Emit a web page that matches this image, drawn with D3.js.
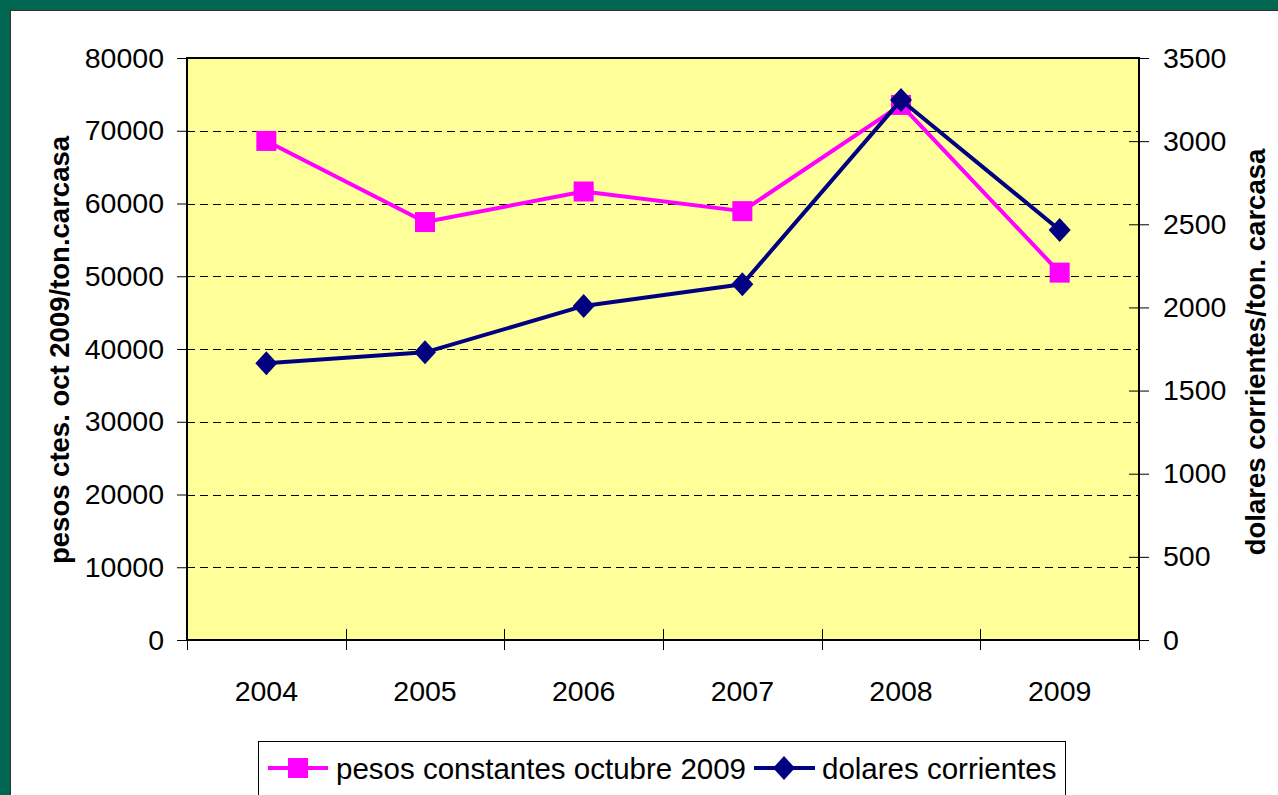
<!DOCTYPE html>
<html>
<head>
<meta charset="utf-8">
<script src="https://cdn.jsdelivr.net/npm/d3@7"></script>
<style>
  html, body { margin: 0; padding: 0; background: #fff; }
  svg { display: block; }
  text { font-family: "Liberation Sans", Arial, sans-serif; }
</style>
</head>
<body>
<script>
// Years on the category axis
const years = ["2004", "2005", "2006", "2007", "2008", "2009"];
// Constant pesos (Oct 2009) per ton carcass — left axis
const pesosConstantes = [68600, 57450, 61650, 58950, 73550, 50500];
// Current dollars per ton carcass — right axis
const dolaresCorrientes = [1664, 1730, 2009, 2139, 3247, 2466];
// Axis ticks
const leftTicks = [0, 10000, 20000, 30000, 40000, 50000, 60000, 70000, 80000];
const rightTicks = [0, 500, 1000, 1500, 2000, 2500, 3000, 3500];

const W = 1278, H = 795;
const plot = { left: 187, top: 58, right: 1139, bottom: 640 };
const FONT = "Liberation Sans, Arial, sans-serif";

const svg = d3.select("body").append("svg").attr("width", W).attr("height", H);

// Outer frame
svg.append("rect").attr("x", 0).attr("y", 0).attr("width", W).attr("height", H).attr("fill", "#00664F");
svg.append("rect").attr("x", 10.5).attr("y", 10.5).attr("width", W).attr("height", H)
  .attr("fill", "#fff").attr("stroke", "#333").attr("stroke-width", 1);

const x = d3.scaleBand().domain(years).range([plot.left, plot.right]).padding(0);
const yL = d3.scaleLinear().domain([0, 80000]).range([plot.bottom, plot.top]);
const yR = d3.scaleLinear().domain([0, 3500]).range([plot.bottom, plot.top]);
const cx = d => x(d) + x.bandwidth() / 2;

// Plot background
svg.append("rect").attr("x", plot.left).attr("y", plot.top)
  .attr("width", plot.right - plot.left).attr("height", plot.bottom - plot.top)
  .attr("fill", "#FFFF99");

// Dashed gridlines
svg.append("g").selectAll("line").data(leftTicks.filter(t => t > 0 && t < 80000)).join("line")
  .attr("x1", plot.left).attr("x2", plot.right)
  .attr("y1", d => Math.round(yL(d)) + 0.5).attr("y2", d => Math.round(yL(d)) + 0.5)
  .attr("stroke", "#000").attr("stroke-width", 1).attr("stroke-dasharray", "8,5");

// Plot border
svg.append("rect").attr("x", plot.left).attr("y", plot.top)
  .attr("width", plot.right - plot.left).attr("height", plot.bottom - plot.top)
  .attr("fill", "none").attr("stroke", "#000").attr("stroke-width", 2);

// Left axis
const gL = svg.append("g").attr("transform", `translate(${plot.left},0)`)
  .call(d3.axisLeft(yL).tickValues(leftTicks).tickSize(10).tickPadding(13).tickFormat(d3.format("d")));
gL.select(".domain").remove();
gL.selectAll(".tick line").attr("stroke", "#000").attr("stroke-width", 1);
gL.selectAll(".tick text").attr("font-size", 28.5).attr("fill", "#000").attr("font-family", FONT);

// Right axis (ticks cross the axis line)
const gR = svg.append("g").attr("transform", `translate(${plot.right},0)`)
  .call(d3.axisRight(yR).tickValues(rightTicks).tickSizeInner(10).tickSizeOuter(0).tickPadding(14)
    .tickFormat(d3.format("d")));
gR.select(".domain").remove();
gR.selectAll(".tick line").attr("x1", -10).attr("stroke", "#000").attr("stroke-width", 1);
gR.selectAll(".tick text").attr("font-size", 28.5).attr("fill", "#000").attr("font-family", FONT);

// Bottom axis: ticks at category boundaries, crossing the axis line
const boundaries = years.map(d => x(d)).concat([plot.right]);
svg.append("g").selectAll("line").data(boundaries).join("line")
  .attr("x1", d => Math.round(d) + 0.5).attr("x2", d => Math.round(d) + 0.5)
  .attr("y1", plot.bottom - 11).attr("y2", plot.bottom + 10)
  .attr("stroke", "#000").attr("stroke-width", 1);
svg.append("g").selectAll("text").data(years).join("text")
  .attr("x", d => cx(d)).attr("y", 701)
  .attr("text-anchor", "middle").attr("font-size", 28.5).attr("fill", "#000")
  .text(d => d);

// Axis titles
svg.append("text")
  .attr("transform", `translate(69,${(plot.top + plot.bottom) / 2 + 1}) rotate(-90)`)
  .attr("text-anchor", "middle").attr("font-size", 27.5).attr("font-weight", "bold")
  .text("pesos ctes. oct 2009/ton.carcasa");
svg.append("text")
  .attr("transform", `translate(1265,${(plot.top + plot.bottom) / 2 + 3}) rotate(-90)`)
  .attr("text-anchor", "middle").attr("font-size", 27.5).attr("font-weight", "bold")
  .text("dolares corrientes/ton. carcasa");

const PINK = "#FF00FF", NAVY = "#000080";

// Pesos series
const linePesos = d3.line().x((d, i) => cx(years[i])).y(d => yL(d));
svg.append("path").datum(pesosConstantes).attr("d", linePesos)
  .attr("fill", "none").attr("stroke", PINK).attr("stroke-width", 4).attr("stroke-linejoin", "round");
svg.append("g").selectAll("rect").data(pesosConstantes).join("rect")
  .attr("x", (d, i) => cx(years[i]) - 10).attr("y", d => yL(d) - 10)
  .attr("width", 20).attr("height", 20).attr("fill", PINK);

// Dollars series
const lineDol = d3.line().x((d, i) => cx(years[i])).y(d => yR(d));
svg.append("path").datum(dolaresCorrientes).attr("d", lineDol)
  .attr("fill", "none").attr("stroke", NAVY).attr("stroke-width", 4).attr("stroke-linejoin", "round");
const diamond = "M0,-12L11,0L0,12L-11,0Z";
svg.append("g").selectAll("path").data(dolaresCorrientes).join("path")
  .attr("transform", (d, i) => `translate(${cx(years[i])},${yR(d)})`)
  .attr("d", diamond).attr("fill", NAVY);

// Legend
const legend = svg.append("g");
legend.append("rect").attr("x", 258.5).attr("y", 741.5).attr("width", 807).attr("height", 70)
  .attr("fill", "#fff").attr("stroke", "#000").attr("stroke-width", 1);
legend.append("line").attr("x1", 268).attr("x2", 328).attr("y1", 768).attr("y2", 768)
  .attr("stroke", PINK).attr("stroke-width", 4);
legend.append("rect").attr("x", 288).attr("y", 758).attr("width", 20).attr("height", 20).attr("fill", PINK);
legend.append("text").attr("x", 336).attr("y", 779).attr("font-size", 29.5).text("pesos constantes octubre 2009");
legend.append("line").attr("x1", 754).attr("x2", 815).attr("y1", 768).attr("y2", 768)
  .attr("stroke", NAVY).attr("stroke-width", 4);
legend.append("path").attr("transform", "translate(784,768)").attr("d", diamond).attr("fill", NAVY);
legend.append("text").attr("x", 822).attr("y", 779).attr("font-size", 29.5).text("dolares corrientes");
</script>
</body>
</html>
